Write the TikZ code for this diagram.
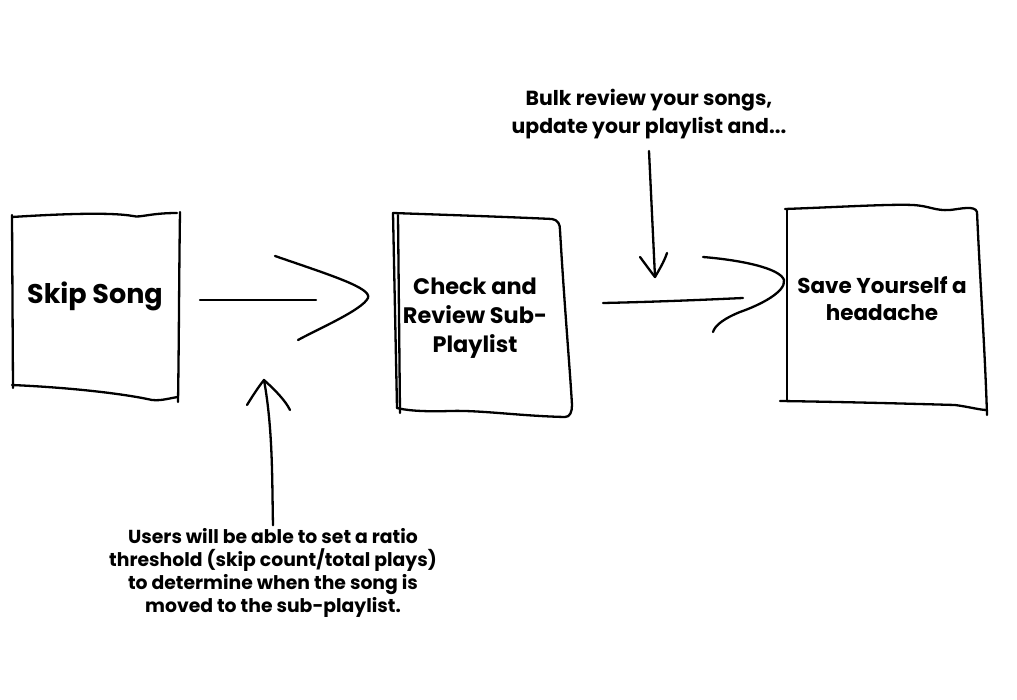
\documentclass[tikz,border=0pt]{standalone}
\usepackage{fontspec}
\setmainfont{Poppins}
\begin{document}
\begin{tikzpicture}[x=1pt,y=-1pt, line cap=round, line join=round,
  sk/.style={draw=black, line width=2.3pt},
  lbl/.style={align=center, inner sep=0pt}]
\useasboundingbox (0,0) rectangle (1017,700);
\fill[white] (0,0) rectangle (1017,700);

% ---------- text nodes ----------
\node[lbl, font=\bfseries\fontsize{27}{36}\selectfont] (skip) at (95,296) {Skip Song};
\node[lbl, font=\bfseries\fontsize{22.4}{29}\selectfont] (check) at (475,318) {Check and\\Review Sub-\\Playlist};
\node[lbl, font=\bfseries\fontsize{21.5}{27}\selectfont] (save) at (882,299) {Save Yourself a\\headache};
\node[lbl, font=\bfseries\fontsize{20.4}{28}\selectfont] (bulk) at (649,114) {Bulk review your songs,\\update your playlist and...};
\node[lbl, font=\bfseries\fontsize{18.8}{23}\selectfont] (users) at (273,573) {Users will be able to set a ratio\\threshold (skip count/total plays)\\to determine when the song is\\moved to the sub-playlist.};

% ---------- box 1 : Skip Song ----------
\draw[sk] (12,217) .. controls (60,214) and (110,212) .. (133,216) .. controls (140,218) and (150,213) .. (177,213);
\draw[sk] (180,212) .. controls (179,280) and (179,340) .. (178,402);
\draw[sk] (12,385) .. controls (80,388) and (130,395) .. (152,400) .. controls (162,401) and (170,398) .. (178,397);
\draw[sk] (12,215) -- (13,388);

% ---------- box 2 : Check and Review ----------
\draw[sk] (393,213) -- (397,408);
\draw[sk] (398,215) -- (400,413);
\draw[sk] (393,213) .. controls (450,215) and (510,217) .. (552,219) .. controls (558,220) and (560,224) .. (560,230)
  .. controls (564,300) and (570,370) .. (572,405) .. controls (572,412) and (570,417) .. (565,417)
  .. controls (520,416) and (480,410) .. (450,411) .. controls (420,412) and (405,410) .. (397,408);

% ---------- box 3 : Save Yourself ----------
\draw[sk] (787,209) -- (787,400);
\draw[sk] (785,209) .. controls (840,207) and (890,204) .. (913,205) .. controls (930,206) and (935,211) .. (950,210)
  .. controls (960,209) and (975,205) .. (977,212) .. controls (980,280) and (985,350) .. (987,415);
\draw[sk] (780,401) .. controls (850,402) and (920,404) .. (955,405) .. controls (970,407) and (980,410) .. (987,410);

% ---------- arrow 1 ----------
\coordinate (a1s) at (200,300);
\coordinate (a1e) at (316,300);
\coordinate (a1u) at (275,256);
\coordinate (a1t) at (368,298);
\coordinate (a1d) at (298,340);
\draw[sk] (a1s) -- (a1e);
\draw[sk] (a1u) .. controls (330,275) and (372,288) .. (a1t) .. controls (362,310) and (320,328) .. (a1d);

% ---------- arrow 2 ----------
\coordinate (a2s) at (603,303);
\coordinate (a2e) at (743,298);
\coordinate (a2u) at (703,257);
\coordinate (a2d) at (713,332);
\draw[sk] (a2s) .. controls (650,302) and (700,300) .. (a2e);
\draw[sk] (a2u) .. controls (740,260) and (780,268) .. (784,280) .. controls (786,292) and (760,305) .. (740,312) .. controls (725,318) and (715,325) .. (a2d);

% ---------- down arrow from top note ----------
\coordinate (dt) at (655,277);
\draw[sk] ([yshift=-12pt]bulk.south) -- (dt);
\draw[sk] (640,257) .. controls (646,265) and (651,272) .. (dt) .. controls (659,270) and (664,262) .. (667,253);

% ---------- up arrow from bottom note ----------
\coordinate (ut) at (264,380);
\draw[sk] ([yshift=3pt]users.north) .. controls (272,480) and (273,430) .. (ut);
\draw[sk] (247,405) .. controls (255,392) and (260,385) .. (ut) .. controls (275,390) and (285,400) .. (290,410);
\end{tikzpicture}
\end{document}
